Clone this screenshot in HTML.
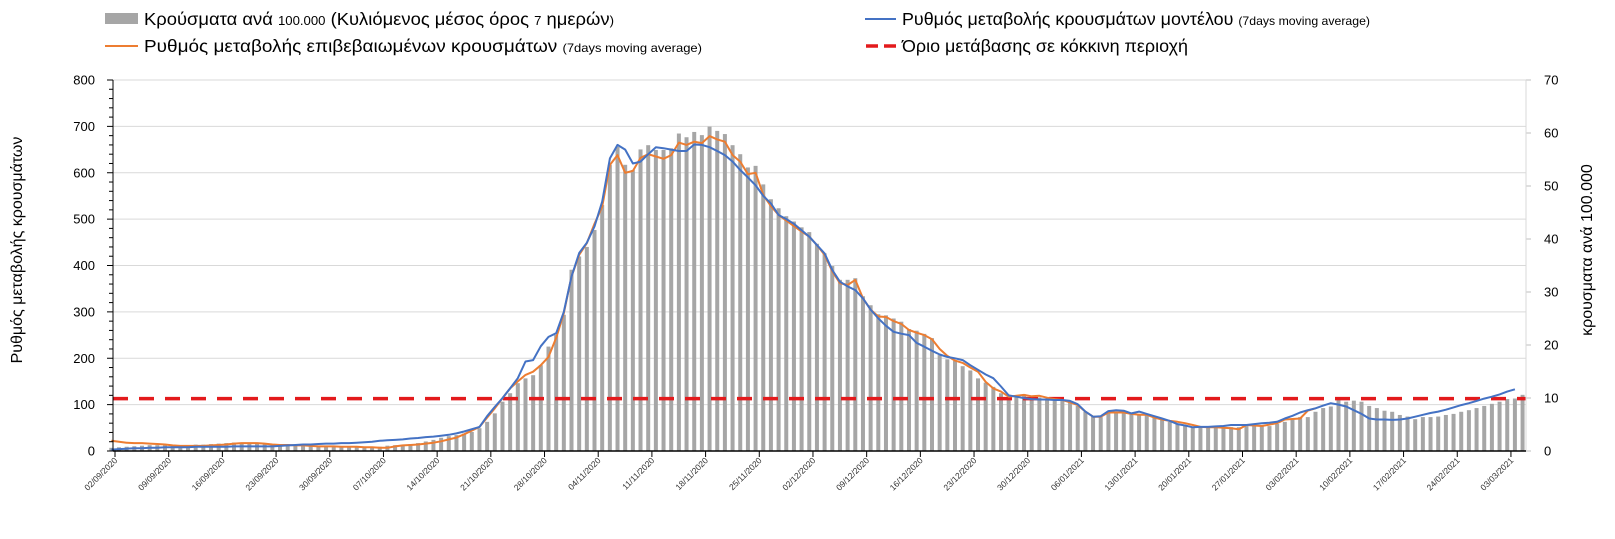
<!DOCTYPE html>
<html><head><meta charset="utf-8"><style>
body{margin:0;background:#fff;}
svg{display:block;font-family:"Liberation Sans",sans-serif;}
</style></head><body>
<svg id="chart" width="1615" height="539" viewBox="0 0 1615 539" xmlns="http://www.w3.org/2000/svg">
<g id="legend">
 <g>
  <rect x="105" y="13" width="33" height="11" fill="#a6a6a6"/>
  <text x="144" y="25" font-size="17.5" fill="#000" textLength="470" lengthAdjust="spacingAndGlyphs">Κρούσματα ανά <tspan font-size="12.5">100.000</tspan> (Κυλιόμενος μέσος όρος <tspan font-size="12.5">7</tspan> ημερών<tspan font-size="12.5">)</tspan></text>
 </g>
 <g>
  <line x1="105" y1="46" x2="138" y2="46" stroke="#ed7d31" stroke-width="2"/>
  <text x="144" y="52" font-size="17.5" fill="#000" textLength="558" lengthAdjust="spacingAndGlyphs">Ρυθμός μεταβολής επιβεβαιωμένων κρουσμάτων <tspan font-size="12">(7days moving average)</tspan></text>
 </g>
 <g>
  <line x1="865" y1="19" x2="896" y2="19" stroke="#4472c4" stroke-width="2"/>
  <text x="902" y="25" font-size="17.5" fill="#000" textLength="468" lengthAdjust="spacingAndGlyphs">Ρυθμός μεταβολής κρουσμάτων μοντέλου <tspan font-size="12">(7days moving average)</tspan></text>
 </g>
 <g>
  <line x1="866" y1="46" x2="896" y2="46" stroke="#e31a1c" stroke-width="3.5" stroke-dasharray="12,6"/>
  <text x="902" y="52" font-size="17.5" fill="#000" textLength="286" lengthAdjust="spacingAndGlyphs">Όριο μετάβασης σε κόκκινη περιοχή</text>
 </g>
</g>
<text transform="translate(22,250) rotate(-90)" text-anchor="middle" font-size="16" fill="#000">Ρυθμός μεταβολής κρουσμάτων</text>
<text transform="translate(1592,250) rotate(-90)" text-anchor="middle" font-size="16" fill="#000">κρουσματα ανά 100.000</text>
<g id="grid"></g><g id="bars"></g><g id="lines"></g><g id="axes"></g>
</svg>
<script>
const leftTicks=[0,100,200,300,400,500,600,700,800];
const rightTicks=[0,10,20,30,40,50,60,70];
const dateLabels=["02/09/2020","09/09/2020","16/09/2020","23/09/2020","30/09/2020","07/10/2020","14/10/2020","21/10/2020","28/10/2020","04/11/2020","11/11/2020","18/11/2020","25/11/2020","02/12/2020","09/12/2020","16/12/2020","23/12/2020","30/12/2020","06/01/2021","13/01/2021","20/01/2021","27/01/2021","03/02/2021","10/02/2021","17/02/2021","24/02/2021","03/03/2021"];
const casesPer100k=[0.6,0.7,0.8,0.9,1.0,1.1,1.1,1.1,1.1,1.1,1.1,1.2,1.2,1.3,1.4,1.5,1.6,1.6,1.5,1.4,1.3,1.2,1.2,1.1,1.1,1.0,1.0,1.0,0.9,0.9,0.9,0.8,0.8,0.8,0.8,0.8,1.0,1.1,1.2,1.3,1.5,1.8,2.1,2.5,2.8,3.0,
3.3,3.6,4.3,5.5,7.1,9.3,10.9,12.8,13.7,14.3,16.2,19.7,21.9,25.7,34.2,36.7,38.5,41.7,46.4,54.0,57.4,54.0,53.0,56.9,57.7,56.8,56.8,57.1,59.9,59.2,60.2,
59.6,61.2,60.4,59.8,57.7,56.0,53.5,53.8,50.3,47.5,45.8,44.3,43.3,42.2,41.3,39.1,37.3,34.9,32.3,32.3,32.6,29.2,27.5,25.8,25.6,25.0,24.4,23.0,22.7,22.1,21.3,18.1,17.3,17.0,16.0,15.2,13.7,12.9,12.1,
10.9,10.2,10.4,10.7,9.9,10.1,9.6,9.8,9.5,9.3,8.5,7.4,6.5,6.4,7.2,7.4,7.2,7.1,7.0,6.8,6.4,6.0,5.5,5.2,4.9,4.6,4.5,4.5,4.5,4.5,
4.5,4.5,4.7,4.9,4.7,4.7,5.1,5.5,6.0,6.4,6.4,7.4,8.1,8.4,9.6,9.3,9.5,9.3,8.5,8.1,7.6,7.4,6.8,6.5,6.0,6.4,6.4,6.5,6.8,7.0,7.4,7.7,8.1,8.5,8.9,9.3,9.8,9.9,10.6];
const confirmedRate=[22,20,18,17,17,16,15,14,12,11,11,11,11,12,13,14,16,17,17,17,16,14,13,13,12,12,11,10,10,10,9,9,9,8,8,7,7,10,12,13,14,16,18,21,25,29,
36,44,52,72,92,114,135,150,164,171,185,203,244,297,376,423,448,490,527,617,638,600,604,632,640,635,630,638,665,660,667,664,679,672,667,638,624,597,600,552,528,509,497,485,473,462,444,423,387,362,358,369,329,305,290,289,280,274,261,255,250,241,220,205,195,190,180,171,149,135,128,
117,119,121,118,119,115,112,110,105,99,85,74,74,83,83,83,80,78,78,72,68,65,63,60,56,52,51,51,50,49,47,56,55,54,57,60,68,69,70,87,92];
const modelRate=[3,4,5,6,6,7,7,8,8,8,8,9,9,9,9,9,10,10,10,10,10,10,11,12,13,14,14,15,16,16,17,17,18,19,20,22,23,24,25,27,28,30,31,33,35,38,
42,47,52,75,95,114,135,157,193,196,226,246,254,300,376,427,449,484,538,631,660,650,620,624,640,655,653,650,647,647,661,660,655,647,638,624,606,590,573,550,534,509,500,490,476,462,444,426,390,365,355,347,329,305,286,270,257,253,250,233,225,216,208,203,200,196,185,175,165,157,139,
120,117,114,112,111,111,110,110,108,101,85,74,75,86,88,87,81,85,80,75,70,65,58,55,51,52,52,53,54,56,56,56,58,60,61,63,70,76,83,88,92,98,103,100,96,88,80,70,68,68,67,68,70,74,78,82,85,89,94,99,103,108,113,117,122,128,133];
const thresholdValue=[113];

const NS="http://www.w3.org/2000/svg";
const X0=111.3, DX=7.67, PL=113, PR=1526, Y0=451, YT=80;
const xAt=d=>X0+DX*d;
const yL=v=>Y0-(Y0-YT)*v/800;
const yR=v=>Y0-(Y0-YT)*v/70;
function mk(tag,attrs,parent){const e=document.createElementNS(NS,tag);for(const k in attrs)e.setAttribute(k,attrs[k]);parent.appendChild(e);return e;}
const grid=document.getElementById('grid'),bars=document.getElementById('bars'),lines=document.getElementById('lines'),axes=document.getElementById('axes');
leftTicks.forEach(v=>{
 if(v>0){const g=mk('line',{x1:PL,x2:PR,y1:yL(v),y2:yL(v),stroke:'#d9d9d9','stroke-width':1},grid);
 
 }
 const t=mk('text',{x:PL-18,y:yL(v)+4.5,'text-anchor':'end','font-size':13,fill:'#000'},axes);t.textContent=v;
 
 
 mk('line',{x1:PL-6,x2:PL,y1:yL(v),y2:yL(v),stroke:'#000','stroke-width':1},axes);
});
for(let v=20;v<800;v+=20){if(v%100)mk('line',{x1:PL-4,x2:PL,y1:yL(v),y2:yL(v),stroke:'#000','stroke-width':1},axes);}
rightTicks.forEach(v=>{
 const t=mk('text',{x:PR+18,y:yR(v)+4.5,'text-anchor':'start','font-size':13,fill:'#000'},axes);t.textContent=v;
 
 
 mk('line',{x1:PR,x2:PR+5,y1:yR(v),y2:yR(v),stroke:'#bfbfbf','stroke-width':1},axes);
});
casesPer100k.forEach((v,i)=>{
 const r=mk('rect',{x:xAt(i)-2,y:yR(v),width:4,height:Y0-yR(v),fill:'#a6a6a6'},bars);
 
 
});
function path(arr){return arr.map((v,i)=>(i?'L':'M')+xAt(i).toFixed(1)+','+yL(v).toFixed(1)).join('');}
const th=mk('line',{x1:PL,x2:PR,y1:yL(thresholdValue[0]),y2:yL(thresholdValue[0]),stroke:'#e31a1c','stroke-width':3.5,'stroke-dasharray':'15,11'},lines);


const po=mk('path',{d:path(confirmedRate),fill:'none',stroke:'#ed7d31','stroke-width':2,'stroke-linejoin':'round'},lines);


const pb=mk('path',{d:path(modelRate),fill:'none',stroke:'#4472c4','stroke-width':2,'stroke-linejoin':'round'},lines);


mk('line',{x1:PL,x2:PL,y1:YT,y2:Y0,stroke:'#000','stroke-width':1},axes);
mk('line',{x1:PR,x2:PR,y1:YT,y2:Y0,stroke:'#d9d9d9','stroke-width':1},axes);
mk('line',{x1:PL,x2:PR,y1:Y0,y2:Y0,stroke:'#000','stroke-width':1.5},axes);
dateLabels.forEach((s,k)=>{
 const x=115+DX*7*k;
 mk('line',{x1:x,x2:x,y1:Y0,y2:Y0+6,stroke:'#000','stroke-width':1},axes);
 const t=mk('text',{transform:`translate(${x+3},${Y0+10}) rotate(-45)`,'text-anchor':'end','font-size':8.5,fill:'#333'},axes);
 t.textContent=s;
 
 
});
</script>
</body></html>
